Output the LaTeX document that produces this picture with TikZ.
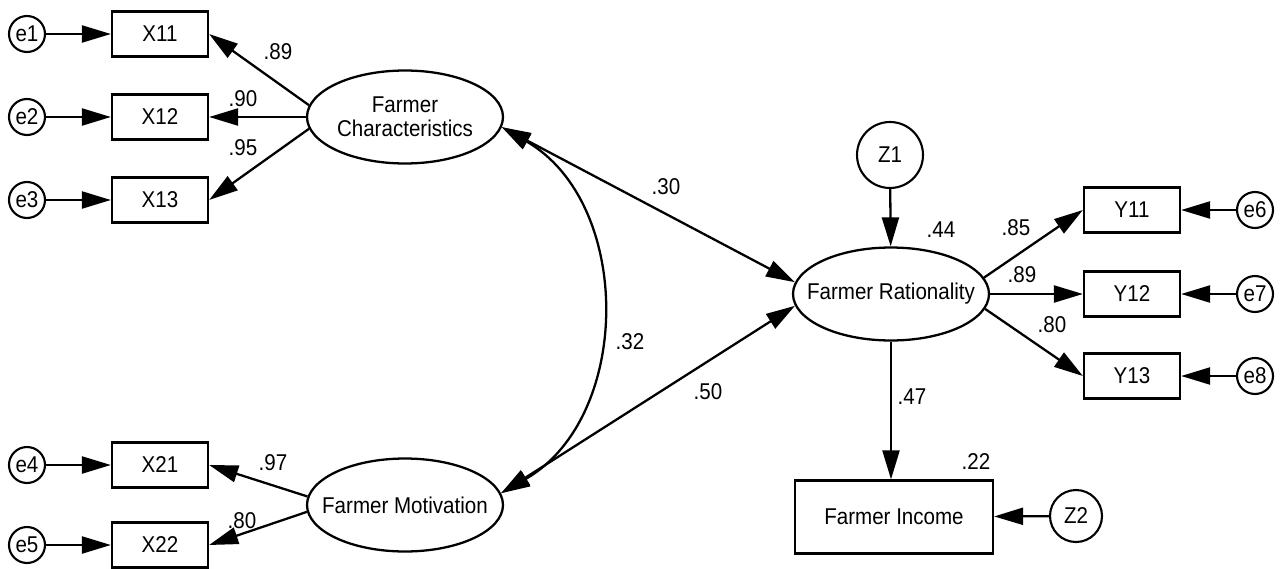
\documentclass[tikz,border=0pt]{standalone}
\usepackage{fontspec}
\setmainfont{Liberation Sans}[FakeStretch=0.9]
\usetikzlibrary{arrows.meta,shapes.geometric}
\newcommand{\ctext}[1]{\makebox[0pt]{#1}}
\tikzset{
  obs/.style={draw, line width=1.3pt, minimum width=1.92cm, minimum height=.9cm, inner sep=0pt},
  lat/.style={draw, ellipse, line width=1.3pt, minimum width=3.92cm, minimum height=1.86cm, inner sep=0pt, align=center},
  err/.style={draw, circle, line width=1.2pt, minimum size=.72cm, inner sep=0pt},
  reg/.style={->, line width=1.3pt},
  cov/.style={<->, line width=1.3pt},
}
\begin{document}
\begin{tikzpicture}[x=.02cm, y=.02cm, >={Triangle[length=.58cm,width=.34cm]}, font=\fontsize{13}{13.7}\selectfont]
\useasboundingbox (0,0) rectangle (1284,-568);
% latent variables
\node[lat] (fc) at (405,-117) {\ctext{Farmer}\\\ctext{Characteristics}};
\node[lat] (fm) at (405,-505) {\ctext{Farmer Motivation}};
\node[lat] (fr) at (891,-294) {\ctext{Farmer Rationality}};
\node[obs, minimum width=3.96cm, minimum height=1.46cm] (fi) at (894,-517) {Farmer Income};
\node[err, minimum size=1.32cm] (z1) at (890,-155) {Z1};
\node[err, minimum size=1.04cm] (z2) at (1076,-516) {Z2};
% indicators and errors
\foreach \n/\i/\y in {11/1/34, 12/2/117, 13/3/200, 21/4/465, 22/5/545}
{
    \node[obs] (x\n) at (160,-\y) {X\n};
    \node[err] (e\i) at (27,-\y) {e\i};
    \draw[reg] (e\i)--(x\n);
}
\foreach \n/\i/\y in {11/6/210, 12/7/294, 13/8/376}
{
    \node[obs] (y\n) at (1132,-\y) {Y\n};
    \node[err] (e\i) at (1255,-\y) {e\i};
    \draw[reg] (e\i)--(y\n);
}
% loadings
\draw[reg] (fc.173)--(x11.east);
\draw[reg] (fc.west)--(x12.east);
\draw[reg] (fc.187)--(x13.east);
\draw[reg] (fm.175)--(x21.east);
\draw[reg] (fm.184)--(x22.east);
\draw[reg] (fr.10)--(y11.west);
\draw[reg] (fr.east)--(y12.west);
\draw[reg] (fr.-9)--(y13.west);
% structural paths
\draw[reg] (z1)--(fr);
\draw[reg] (fr.south)--(fr.south |- fi.north);
\draw[reg] (z2)--(fi);
\draw[cov] (fc.-6)--(fr.173);
\draw[cov] (fm.7)--(fr.-173);
\draw[cov] (fc.-6) to[out=-30, in=30, looseness=1.06] (fm.7);
% estimates
\foreach \t/\x/\y [count=\k] in {.89/278/52, .90/243/99, .95/243/148, .97/273/463, .80/242/521, .30/666/187, .32/630/342, .50/708/392, .44/941/230, .85/1016/228, .89/1022/275, .80/1052/325, .47/912/397, .22/976/462}
{
    \node (lab\k) at (\x,-\y) {\t};
}
\end{tikzpicture}
\end{document}
